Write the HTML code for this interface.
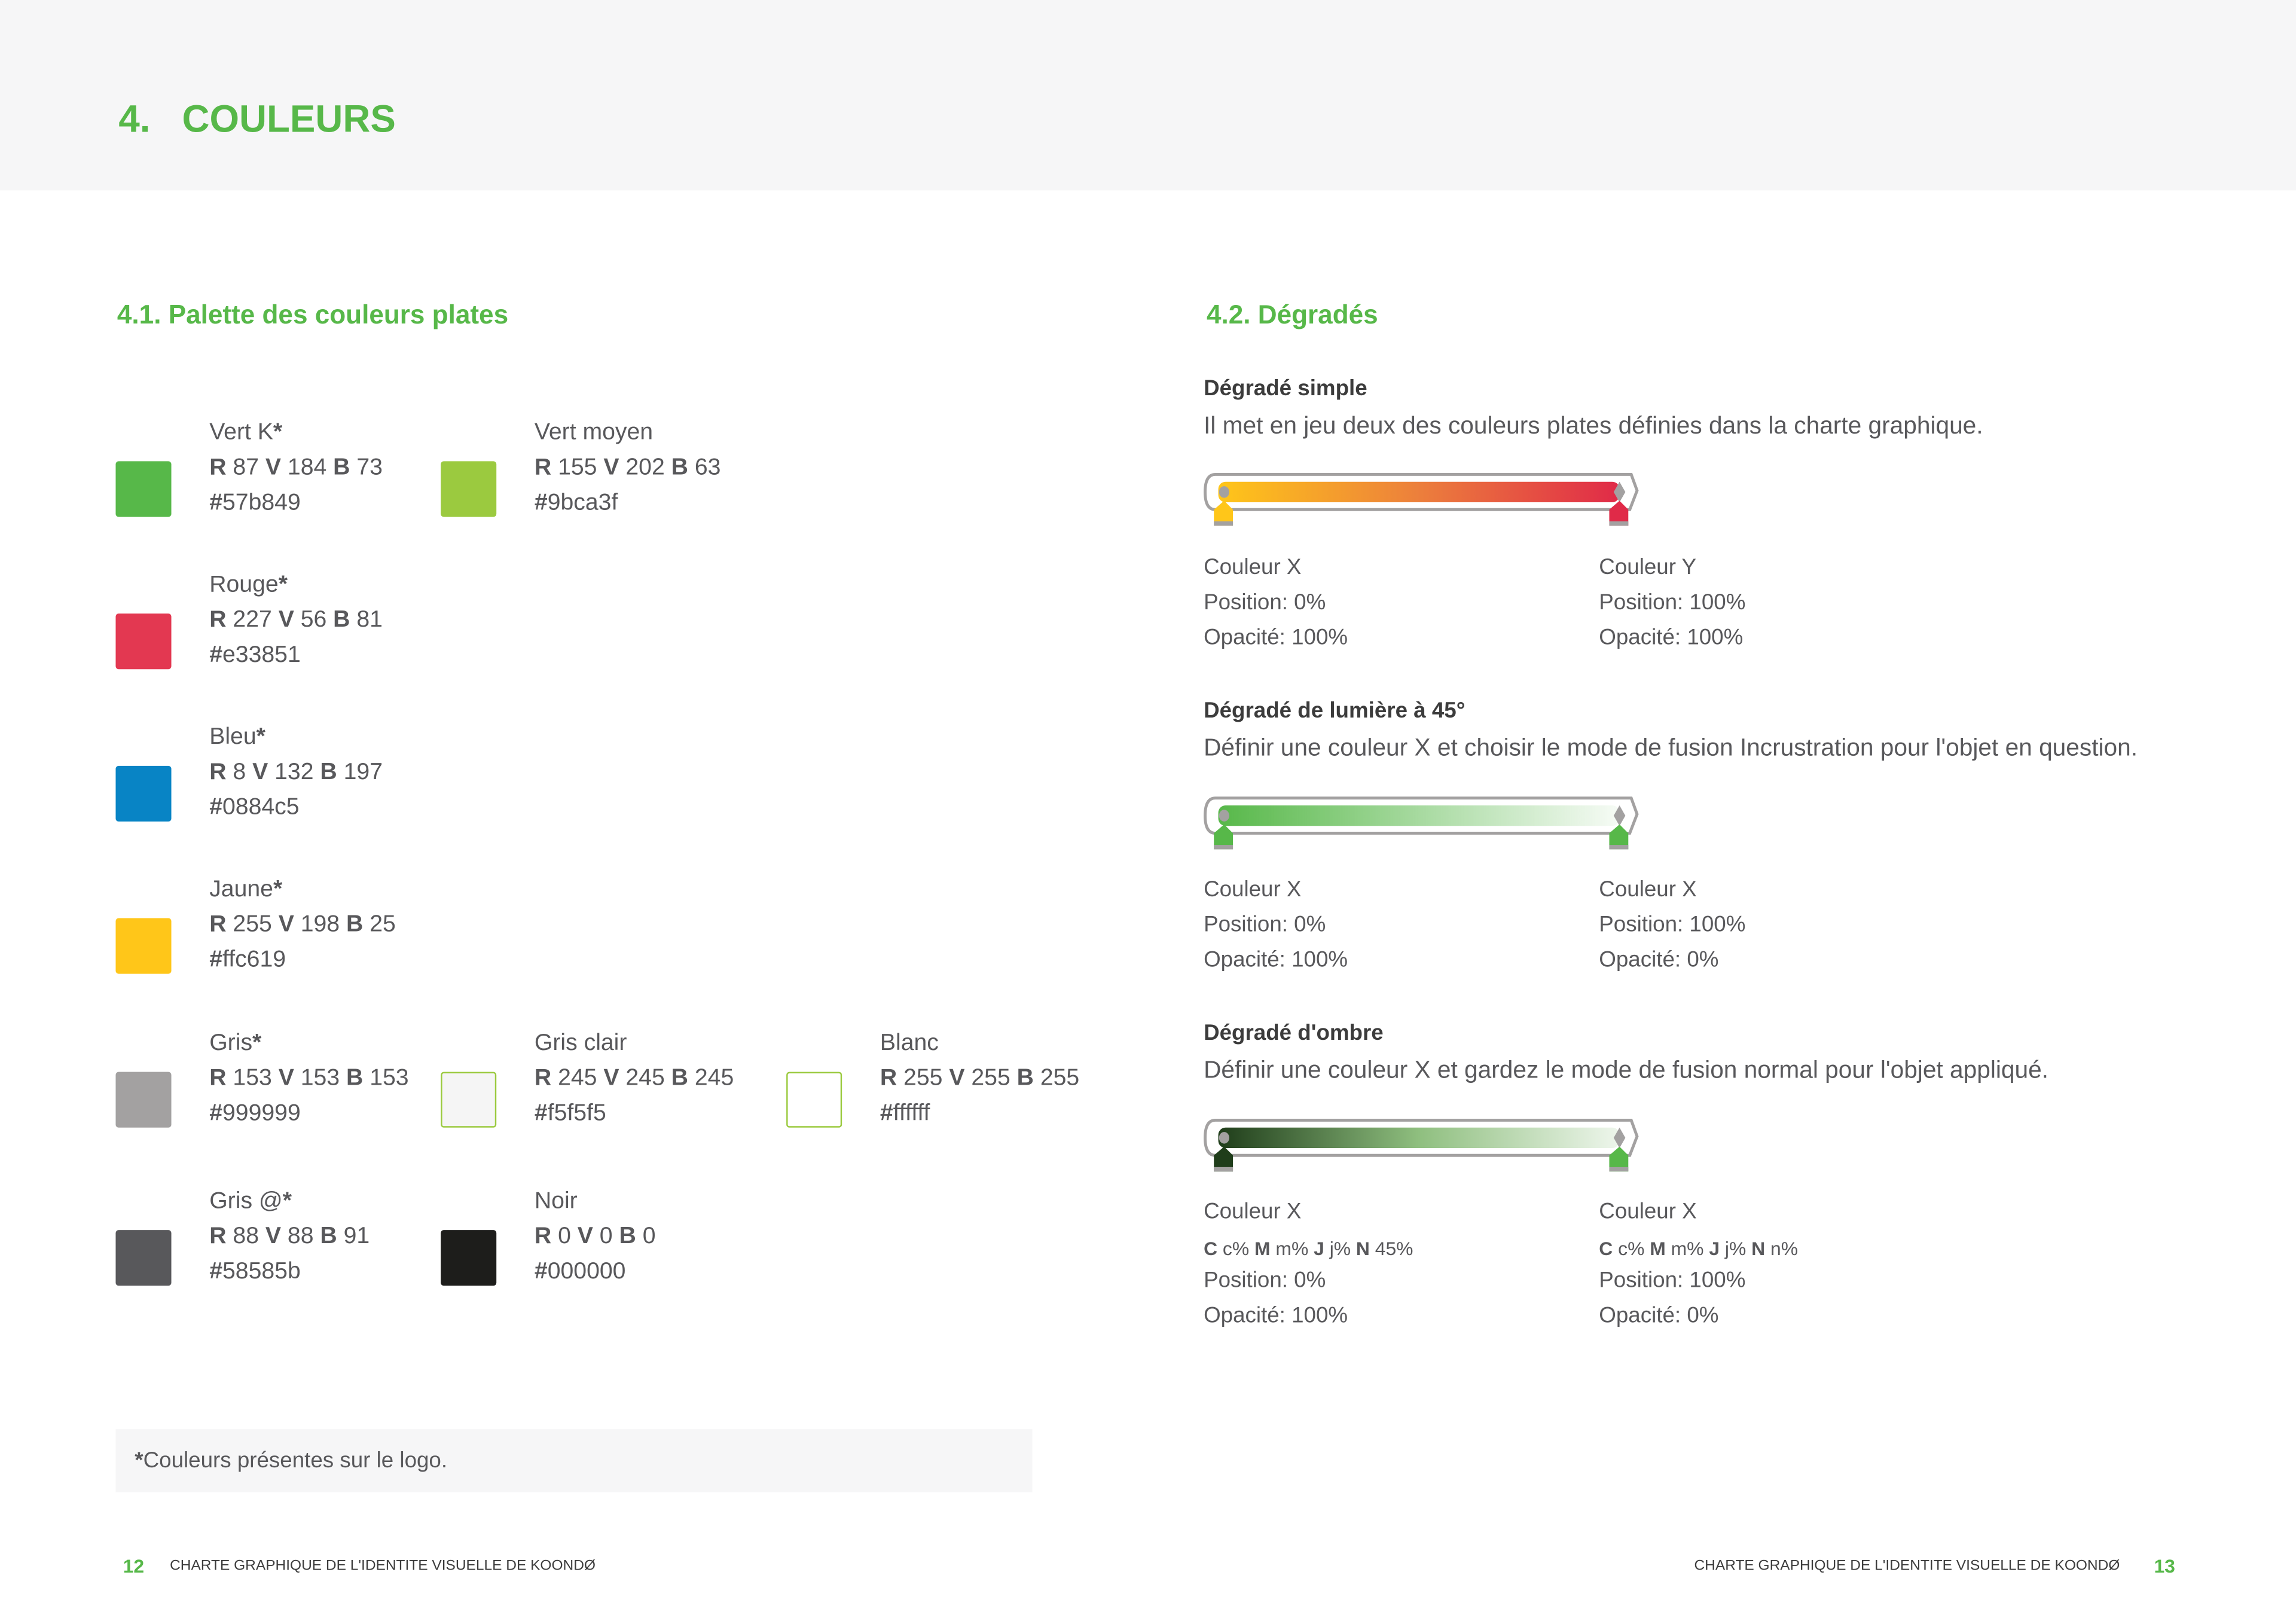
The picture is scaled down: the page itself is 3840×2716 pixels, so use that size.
<!DOCTYPE html>
<html><head><meta charset="utf-8"><style>
html,body{margin:0;padding:0;background:#fff}
#root{width:1568px;height:1109px;position:relative;transform:scale(2.449);transform-origin:0 0;font-family:"Liberation Sans",sans-serif;color:#58585b;overflow:hidden}
.a{position:absolute;white-space:nowrap}
.sw{position:absolute;width:38px;height:38px;border-radius:2px}
.t{font-size:16px;line-height:24px;font-weight:300}
b{font-weight:bold}
.g{color:#57b849;font-weight:bold}
.h{font-size:16px;font-weight:bold;color:#3c3c3c}
.p{font-size:15px}
.d{font-size:16.6px}
</style></head><body><div id="root">
<div class="a" style="left:0;top:0;width:1568px;height:130px;background:#f6f6f7"></div>
<div class="a g" style="left:81px;top:66px;font-size:26px">4.&nbsp;&nbsp;&nbsp;COULEURS</div>
<div class="a g" style="left:80px;top:205px;font-size:18px">4.1. Palette des couleurs plates</div>
<div class="a g" style="left:824px;top:205px;font-size:18px">4.2. Dégradés</div>

<div class="sw" style="left:79px;top:315px;background:#57b849"></div>
<div class="a t" style="left:143px;top:284px">Vert K<b>*</b><br><b>R</b> 87 <b>V</b> 184 <b>B</b> 73<br><b>#</b>57b849</div>
<div class="sw" style="left:301px;top:315px;background:#9bca3f"></div>
<div class="a t" style="left:365px;top:284px">Vert moyen<br><b>R</b> 155 <b>V</b> 202 <b>B</b> 63<br><b>#</b>9bca3f</div>

<div class="sw" style="left:79px;top:419px;background:#e33851"></div>
<div class="a t" style="left:143px;top:388px">Rouge<b>*</b><br><b>R</b> 227 <b>V</b> 56 <b>B</b> 81<br><b>#</b>e33851</div>
<div class="sw" style="left:79px;top:523px;background:#0884c5"></div>
<div class="a t" style="left:143px;top:492px">Bleu<b>*</b><br><b>R</b> 8 <b>V</b> 132 <b>B</b> 197<br><b>#</b>0884c5</div>
<div class="sw" style="left:79px;top:627px;background:#ffc619"></div>
<div class="a t" style="left:143px;top:596px">Jaune<b>*</b><br><b>R</b> 255 <b>V</b> 198 <b>B</b> 25<br><b>#</b>ffc619</div>

<div class="sw" style="left:79px;top:732px;background:#a3a1a1"></div>
<div class="a t" style="left:143px;top:701px">Gris<b>*</b><br><b>R</b> 153 <b>V</b> 153 <b>B</b> 153<br><b>#</b>999999</div>
<div class="sw" style="left:301px;top:732px;background:#f5f5f5;border:1px solid #9bca3f;box-sizing:border-box"></div>
<div class="a t" style="left:365px;top:701px">Gris clair<br><b>R</b> 245 <b>V</b> 245 <b>B</b> 245<br><b>#</b>f5f5f5</div>
<div class="sw" style="left:537px;top:732px;background:#fff;border:1px solid #9bca3f;box-sizing:border-box"></div>
<div class="a t" style="left:601px;top:701px">Blanc<br><b>R</b> 255 <b>V</b> 255 <b>B</b> 255<br><b>#</b>ffffff</div>

<div class="sw" style="left:79px;top:840px;background:#58585b"></div>
<div class="a t" style="left:143px;top:809px">Gris @<b>*</b><br><b>R</b> 88 <b>V</b> 88 <b>B</b> 91<br><b>#</b>58585b</div>
<div class="sw" style="left:301px;top:840px;background:#1d1d1b"></div>
<div class="a t" style="left:365px;top:809px">Noir<br><b>R</b> 0 <b>V</b> 0 <b>B</b> 0<br><b>#</b>000000</div>

<div class="a" style="left:79px;top:976px;width:626px;height:43px;background:#f6f6f7"></div>
<div class="a t" style="left:92px;top:986px;font-size:15px"><b>*</b>Couleurs présentes sur le logo.</div>

<div class="a g" style="left:84px;top:1062px;font-size:13px">12</div>
<div class="a" style="left:116px;top:1064px;font-size:10px;color:#3c3c3c">CHARTE GRAPHIQUE DE L'IDENTITE VISUELLE DE KOONDØ</div>
<div class="a" style="left:1157px;top:1064px;font-size:10px;color:#3c3c3c">CHARTE GRAPHIQUE DE L'IDENTITE VISUELLE DE KOONDØ</div>
<div class="a g" style="left:1471px;top:1062px;font-size:13px">13</div>

<div class="a h" style="left:822px;top:257px;font-size:15px">Dégradé simple</div>
<div class="a t d" style="left:822px;top:279px">Il met en jeu deux des couleurs plates définies dans la charte graphique.</div>
<div class="a h" style="left:822px;top:477px;font-size:15px">Dégradé de lumière à 45°</div>
<div class="a t d" style="left:822px;top:499px">Définir une couleur X et choisir le mode de fusion Incrustration pour l'objet en question.</div>
<div class="a h" style="left:822px;top:697px;font-size:15px">Dégradé d'ombre</div>
<div class="a t d" style="left:822px;top:719px">Définir une couleur X et gardez le mode de fusion normal pour l'objet appliqué.</div>

<svg class="a" style="left:0;top:0" width="1568" height="1109">
<defs>
<linearGradient id="g1"><stop offset="0" stop-color="#ffc619"/><stop offset=".5" stop-color="#ec7f3c"/><stop offset="1" stop-color="#e02a48"/></linearGradient>
<linearGradient id="g2"><stop offset="0" stop-color="#57b849"/><stop offset="1" stop-color="#57b849" stop-opacity="0.05"/></linearGradient>
<linearGradient id="g3"><stop offset="0" stop-color="#1f3d1a"/><stop offset=".5" stop-color="#8fbf7f"/><stop offset="1" stop-color="#eef6ec"/></linearGradient>
<g id="bar">
<path d="M830,324 L1114,324 L1118,335 L1113,348 L830,348 Q823,348 823,336 Q823,324 830,324Z" fill="none" stroke="#a3a1a1" stroke-width="2"/>
</g>
</defs>
<g>
<use href="#bar"/>
<rect x="832" y="329" width="274" height="14" rx="5" fill="url(#g1)"/>
<ellipse cx="836" cy="336" rx="3.5" ry="4" fill="#a3a1a1"/>
<path d="M1106,329 L1110,336 L1106,343 L1102,336Z" fill="#a3a1a1"/>
<path d="M836,342 L842,348 L842,359 L829,359 L829,348Z" fill="#ffc619"/><rect x="829" y="356" width="13" height="3" fill="#a3a1a1"/>
<path d="M1106,342 L1112,348 L1112,359 L1099,359 L1099,348Z" fill="#e02a48"/><rect x="1099" y="356" width="13" height="3" fill="#a3a1a1"/>
</g>
<g transform="translate(0,221)">
<use href="#bar"/>
<rect x="832" y="329" width="274" height="14" rx="5" fill="url(#g2)"/>
<ellipse cx="836" cy="336" rx="3.5" ry="4" fill="#a3a1a1"/>
<path d="M1106,329 L1110,336 L1106,343 L1102,336Z" fill="#a3a1a1"/>
<path d="M836,342 L842,348 L842,359 L829,359 L829,348Z" fill="#57b849"/><rect x="829" y="356" width="13" height="3" fill="#a3a1a1"/>
<path d="M1106,342 L1112,348 L1112,359 L1099,359 L1099,348Z" fill="#57b849"/><rect x="1099" y="356" width="13" height="3" fill="#a3a1a1"/>
</g>
<g transform="translate(0,441)">
<use href="#bar"/>
<rect x="832" y="329" width="274" height="14" rx="5" fill="url(#g3)"/>
<ellipse cx="836" cy="336" rx="3.5" ry="4" fill="#a3a1a1"/>
<path d="M1106,329 L1110,336 L1106,343 L1102,336Z" fill="#a3a1a1"/>
<path d="M836,342 L842,348 L842,359 L829,359 L829,348Z" fill="#1f3d1a"/><rect x="829" y="356" width="13" height="3" fill="#a3a1a1"/>
<path d="M1106,342 L1112,348 L1112,359 L1099,359 L1099,348Z" fill="#57b849"/><rect x="1099" y="356" width="13" height="3" fill="#a3a1a1"/>
</g>
</svg>

<div class="a t p" style="left:822px;top:376px">Couleur X<br>Position: 0%<br>Opacité: 100%</div>
<div class="a t p" style="left:1092px;top:376px">Couleur Y<br>Position: 100%<br>Opacité: 100%</div>
<div class="a t p" style="left:822px;top:596px">Couleur X<br>Position: 0%<br>Opacité: 100%</div>
<div class="a t p" style="left:1092px;top:596px">Couleur X<br>Position: 100%<br>Opacité: 0%</div>
<div class="a t p" style="left:822px;top:816px">Couleur X</div>
<div class="a t" style="left:822px;top:841px;font-size:13px"><b>C</b> c% <b>M</b> m% <b>J</b> j% <b>N</b> 45%</div>
<div class="a t p" style="left:822px;top:863px">Position: 0%<br>Opacité: 100%</div>
<div class="a t p" style="left:1092px;top:816px">Couleur X</div>
<div class="a t" style="left:1092px;top:841px;font-size:13px"><b>C</b> c% <b>M</b> m% <b>J</b> j% <b>N</b> n%</div>
<div class="a t p" style="left:1092px;top:863px">Position: 100%<br>Opacité: 0%</div>
</div></body></html>
